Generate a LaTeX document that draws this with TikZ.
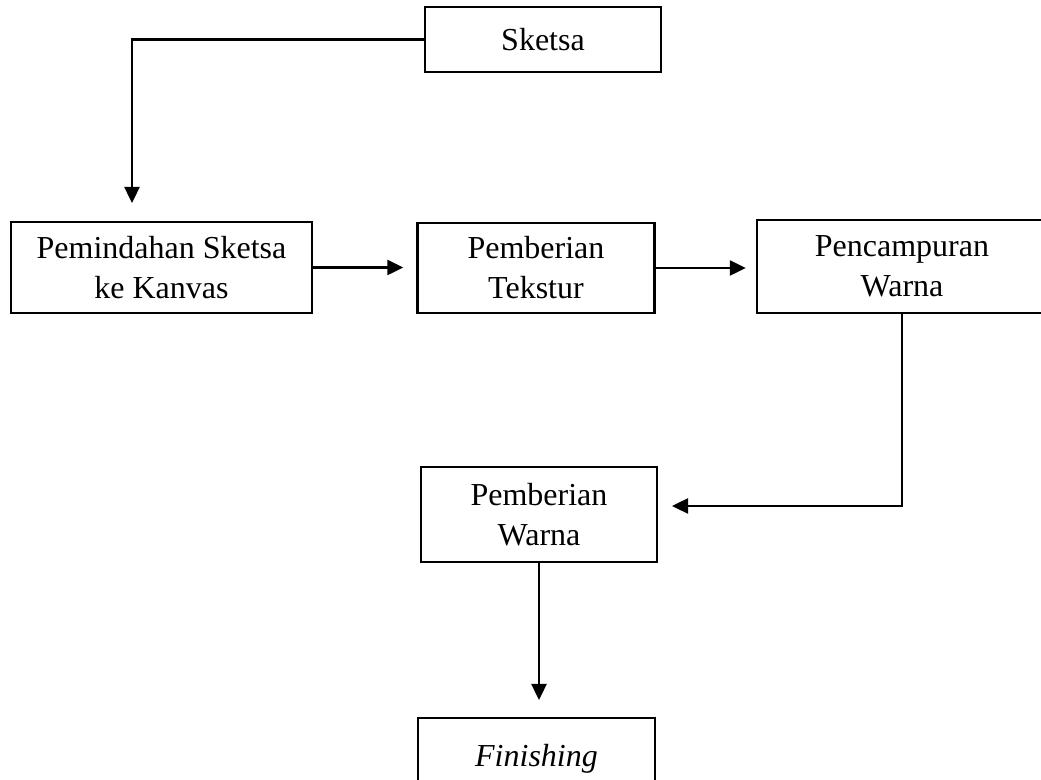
\documentclass[tikz,border=0pt]{standalone}
\usepackage{fontspec}
\setmainfont{Liberation Serif}
\usetikzlibrary{arrows.meta}

\begin{document}
\begin{tikzpicture}[x=0.5pt,y=-0.5pt]

\tikzset{box/.style = {shape=rectangle,draw,line width=1.2pt,align=center,inner sep=0pt,font=\fontsize{16}{20}\selectfont}}
\tikzset{edge/.style = {line width=1.2pt,-{Triangle[length=8pt,width=7.5pt]}}}

\useasboundingbox (0,0) rectangle (1041,780);

%steps

\node[box, minimum width=118pt, minimum height=32.5pt] (sketsa) at (543,39.5) {Sketsa};
\node[box, minimum width=150.5pt, minimum height=45.5pt] (pindah) at (161.5,267.5) {Pemindahan Sketsa\\ke Kanvas};
\node[box, minimum width=118.5pt, minimum height=45pt] (tekstur) at (536,268) {Pemberian\\Tekstur};
\node[box, minimum width=145pt, minimum height=46.5pt] (campur) at (902,266.5) {Pencampuran\\Warna};
\node[box, minimum width=118pt, minimum height=47.5pt] (warna) at (539,514.5) {Pemberian\\Warna};
\node[box, minimum width=118.5pt, minimum height=41pt] (finish) at (536.5,759) {\textit{Finishing}};

\coordinate (t1) at (132,203);
\coordinate (t2) at (672,506);
\coordinate (t3) at (539,700);

%edges
\draw[edge] (sketsa.west) -| (t1);
\draw[edge, shorten >=6.5pt] (pindah.east) -- (pindah.east -| tekstur.west);
\draw[edge, shorten >=5pt] (tekstur.east) -- (tekstur.east -| campur.west);
\draw[edge] (campur.south) |- (t2);
\draw[edge] (warna.south) -- (t3);

\end{tikzpicture}
\end{document}
